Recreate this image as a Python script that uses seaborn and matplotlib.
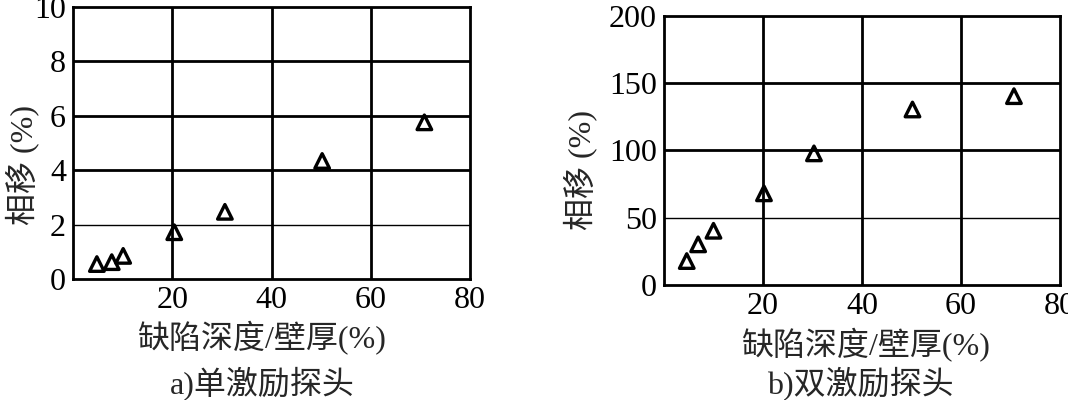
import matplotlib
matplotlib.use("Agg")
import matplotlib.pyplot as plt
import seaborn as sns

# ---------------------------------------------------------------------------
# DONNÉES
# ---------------------------------------------------------------------------
depth_a = [4.8, 7.8, 10.1, 20.4, 30.6, 50.2, 70.8]
shift_a = [0.55, 0.62, 0.85, 1.72, 2.47, 4.34, 5.76]

depth_b = [4.6, 6.9, 10.0, 20.2, 30.3, 50.2, 70.7]
shift_b = [17.8, 30.2, 40.3, 68.1, 97.8, 130.4, 140.3]

xticks = [20, 40, 60, 80]
yticks_a = [0, 2, 4, 6, 8, 10]
yticks_b = [0, 50, 100, 150, 200]

xlabel = "缺陷深度/壁厚(%)"
ylabel = "相移 (%)"
caption_a = "a)单激励探头"
caption_b = "b)双激励探头"

sns.set_style("white")
FONT = ["Liberation Serif", "Noto Sans CJK SC", "DejaVu Sans"]
plt.rcParams["font.family"] = FONT

fig = plt.figure(figsize=(10.68, 4.0), dpi=100)
ax_a = fig.add_axes([0.0684, 0.3025, 0.3717, 0.680])
ax_b = fig.add_axes([0.6217, 0.2875, 0.3708, 0.673])


def style_axis(ax, x, y, yticks, ymax):
    sns.scatterplot(x=x, y=y, ax=ax, marker="^", s=110,
                    facecolor="none", edgecolor="black", linewidth=2.4,
                    zorder=3)
    ax.set_xlim(0, 80)
    ax.set_ylim(0, ymax)
    ax.set_xticks(xticks)
    ax.set_yticks(yticks)
    ax.tick_params(length=0, labelsize=23, pad=5, colors="black")
    # grille : la premiere ligne horizontale est plus fine
    for xv in xticks[:-1]:
        ax.axvline(xv, color="black", linewidth=2.0, zorder=1)
    for yv in yticks[1:-1]:
        lw = 1.0 if yv == yticks[1] else 2.0
        ax.axhline(yv, color="black", linewidth=lw, zorder=1)
    for sp in ax.spines.values():
        sp.set_visible(True)
        sp.set_edgecolor("black")
        sp.set_linewidth(2.0)
    ax.set_xlabel("")
    ax.set_ylabel("")


style_axis(ax_a, depth_a, shift_a, yticks_a, 10)
style_axis(ax_b, depth_b, shift_b, yticks_b, 200)

# textes (axes + légendes)
fig.text(262 / 1068, 1 - 338 / 400, xlabel, ha="center", va="center",
         fontsize=23, family=FONT)
fig.text(866 / 1068, 1 - 345 / 400, xlabel, ha="center", va="center",
         fontsize=23, family=FONT)
fig.text(22 / 1068, 1 - 165 / 400, ylabel, ha="center", va="center",
         rotation=90, fontsize=23, family=FONT)
fig.text(580 / 1068, 1 - 170 / 400, ylabel, ha="center", va="center",
         rotation=90, fontsize=23, family=FONT)
fig.text(262 / 1068, 1 - 383 / 400, caption_a, ha="center", va="center",
         fontsize=23, family=FONT)
fig.text(860 / 1068, 1 - 383 / 400, caption_b, ha="center", va="center",
         fontsize=23, family=FONT)

fig.savefig("out.png", dpi=100, facecolor="white")
plt.close(fig)
